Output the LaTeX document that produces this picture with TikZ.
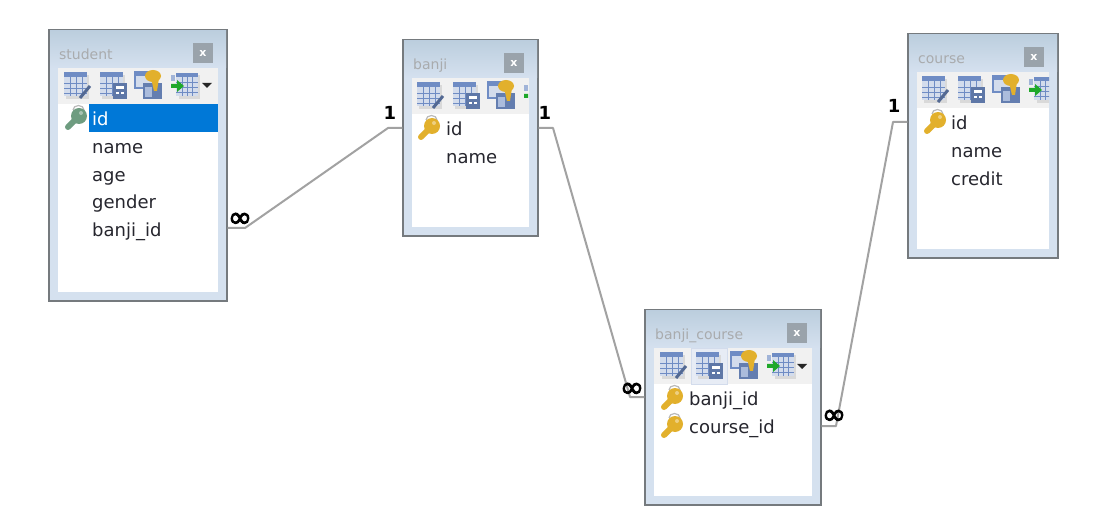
\documentclass[tikz,border=0pt]{standalone}
\usepackage{fontspec}
\setmainfont{DejaVu Sans}
\newfontfamily\symfont[FakeBold=3]{DejaVu Sans}
\definecolor{framegray}{HTML}{757A7E}
\definecolor{bodyblue}{HTML}{D5E1EF}
\definecolor{headtop}{HTML}{BCCEDE}
\definecolor{toolbg}{HTML}{F1F1F1}
\definecolor{selblue}{HTML}{0078D7}
\definecolor{linkgray}{HTML}{A2A2A2}
\definecolor{titlegray}{HTML}{A9ABAD}
\definecolor{closegray}{HTML}{9AA3AB}
\definecolor{rowink}{HTML}{26262E}
\definecolor{gridblue}{HTML}{6F8CC4}
\definecolor{gridlight}{HTML}{D3DCEC}
\definecolor{keygold}{HTML}{E2B02C}
\definecolor{keygreen}{HTML}{6E9C80}
\definecolor{arrowgreen}{HTML}{1FA82A}
\tikzset{
  x=1pt,y=-1pt,
  frame box/.style={draw=framegray,line width=1.4pt,fill=bodyblue,rectangle,inner sep=0pt},
  title text/.style={anchor=base west,inner sep=0pt,text=titlegray,font=\fontsize{14}{16}\selectfont},
  row text/.style={anchor=base west,inner sep=0pt,text=rowink,font=\fontsize{18}{20}\selectfont},
  close btn/.style={fill=closegray,minimum width=20pt,minimum height=20pt,inner sep=0pt,text=white,font=\bfseries\fontsize{11}{11}\selectfont},
  link/.style={draw=linkgray,line width=2pt,line join=round},
  one mark/.style={inner sep=0pt,text=black,font=\bfseries\fontsize{18}{18}\selectfont},
  many mark/.style={inner sep=0pt,text=black,font=\symfont\fontsize{29}{29}\selectfont},
}
% table window: name, x0, y0, x1, y1, title
\newcommand{\tablewin}[6]{%
  \node[frame box,minimum width={(#4-#2)*1pt},minimum height={(#5-#3)*1pt}] (#1) at ({(#2+#4)/2},{(#3+#5)/2}) {};
  \shade[top color=headtop,bottom color=bodyblue] ({#2+1},{#3+1}) rectangle ({#4-1},{#3+38});
  \fill[white] ({#2+9},{#3+38}) rectangle ({#4-9},{#5-9});
  \fill[toolbg] ({#2+9},{#3+38}) rectangle ({#4-9},{#3+74});
  \node[title text] (#1-title) at ({#2+10},{#3+29.5}) {#6};
  \node[close btn] (#1-close) at ({#4-24},{#3+23}) {x};
}
\newcommand{\gridicon}[2]{% table glyph at x,y, 22x22
  \fill[gray!30] ({#1+2},{#2+3}) rectangle ({#1+25},{#2+27});
  \fill[gridlight] (#1,#2) rectangle ({#1+23},{#2+24});
  \fill[gridblue] (#1,#2) rectangle ({#1+23},{#2+5});
  \foreach \gi in {6,11,16}{\draw[gridblue,line width=.9pt] (#1,{#2+5+\gi}) -- ({#1+23},{#2+5+\gi});}
  \foreach \gi in {6,12,18}{\draw[gridblue,line width=.9pt] ({#1+\gi},{#2+5}) -- ({#1+\gi},{#2+24});}
}
\newcommand{\iconedit}[2]{\gridicon{#1}{#2}
  \draw[gridblue!75!black,line width=3pt] ({#1+16},{#2+26}) -- ({#1+26},{#2+14});}
\newcommand{\iconcalc}[2]{\gridicon{#1}{#2}
  \fill[gridblue!85!black] ({#1+13},{#2+11}) rectangle ({#1+27},{#2+27});
  \fill[white] ({#1+16},{#2+14}) rectangle ({#1+24},{#2+17});
  \fill[white] ({#1+16},{#2+20}) rectangle ({#1+19},{#2+22});
  \fill[white] ({#1+21},{#2+20}) rectangle ({#1+24},{#2+22});}
\newcommand{\iconkey}[2]{%
  \fill[gridblue] (#1,#2) rectangle ({#1+21},{#2+18});
  \fill[gridlight] ({#1+2},{#2+5}) rectangle ({#1+19},{#2+16});
  \fill[gridblue!90!black] ({#1+9},{#2+12}) rectangle ({#1+28},{#2+28});
  \fill[gridlight!60!gridblue] ({#1+11},{#2+16}) rectangle ({#1+18},{#2+26});
  \fill[keygold] ({#1+19},{#2+5}) ellipse[x radius=8,y radius=6];
  \fill[keygold] ({#1+17},{#2+7}) -- ({#1+25},{#2+7}) -- ({#1+23},{#2+20}) -- ({#1+20},{#2+20}) -- cycle;
}
\newcommand{\iconmove}[2]{%
  \fill[gray!30] ({#1+8},{#2+3}) rectangle ({#1+29},{#2+27});
  \fill[gridlight] ({#1+5},{#2+1}) rectangle ({#1+27},{#2+24});
  \fill[gridblue] ({#1+5},{#2+1}) rectangle ({#1+27},{#2+5});
  \foreach \gi in {11,16,21}{\draw[gridblue,line width=.9pt] ({#1+\gi},{#2+5}) -- ({#1+\gi},{#2+24});
    \draw[gridblue,line width=.9pt] ({#1+5},{#2+\gi-1}) -- ({#1+27},{#2+\gi-1});}
  \fill[gridlight!50!gridblue] (#1,{#2+3}) rectangle ({#1+4},{#2+9});
  \fill[arrowgreen] (#1,{#2+12}) -- ({#1+6},{#2+12}) -- ({#1+6},{#2+8}) -- ({#1+13},{#2+14}) -- ({#1+6},{#2+20}) -- ({#1+6},{#2+16}) -- (#1,{#2+16}) -- cycle;
}
% toolbar: left x of inner area, top y of toolbar
\newcommand{\toolset}[2]{%
  \iconedit{#1+6}{#2+4}
  \iconcalc{#1+42}{#2+4}
  \iconkey{#1+76}{#2+3}
  \iconmove{#1+113}{#2+4}
}
\newcommand{\dropmark}[2]{\fill[black!85] ({#1-5},{#2-2}) -- ({#1+5},{#2-2}) -- (#1,{#2+3}) -- cycle;}
\newcommand{\keyicon}[3]{% x,y (top-left), colour
  \draw[gray!55,line width=1.2pt] ({#1+8},{#2+5}) arc[start angle=180,end angle=0,x radius=5.5,y radius=-4.5];
  \draw[#3,line width=6pt,line cap=round] ({#1+3},{#2+22}) -- ({#1+12},{#2+13});
  \fill[#3] ({#1+14},{#2+11}) ellipse[x radius=8,y radius=8];
  \fill[#3!60!white] ({#1+16},{#2+8}) circle[radius=2];
}
\newcommand{\rowtext}[4]{% name,x,row centre y,text
  \coordinate (#1-c) at (#2,#3);
  \node[row text] (#1) at (#2,{#3+7.5}) {#4};
}
\begin{document}
\begin{tikzpicture}
\useasboundingbox (0,0) rectangle (1116,526);
\fill[white] (0,0) rectangle (1116,526);

% student
\tablewin{student}{49}{30}{227}{301}{student}
\begin{scope}\clip (58,68) rectangle (218,104); \toolset{58}{68} \end{scope}
\dropmark{207}{85}
\fill[selblue] (89,104) rectangle (218,132);
\keyicon{65}{105}{keygreen}
\rowtext{s-id}{92}{118}{\textcolor{white}{id}}
\rowtext{s-name}{92}{146}{name}
\rowtext{s-age}{92}{174}{age}
\rowtext{s-gender}{92}{201}{gender}
\rowtext{s-banji}{92}{229}{banji\_id}

% banji
\tablewin{banji}{403}{40}{538}{236}{banji}
\begin{scope}\clip (412,78) rectangle (528,114); \toolset{411}{78} \end{scope}
\keyicon{418}{115}{keygold}
\rowtext{b-id}{446}{128}{id}
\rowtext{b-name}{446}{156}{name}

% banji_course
\tablewin{bc}{645}{310}{821}{505}{banji\_course}
\fill[gridlight!55!white] (691,348) rectangle (727,384);
\draw[gridlight,line width=.7pt] (691,348) rectangle (727,384);
\begin{scope}\clip (655,348) rectangle (811,384); \toolset{654}{348} \end{scope}
\dropmark{802}{366}
\keyicon{661}{385}{keygold}
\keyicon{661}{413}{keygold}
\rowtext{bc-bid}{689}{398}{banji\_id}
\rowtext{bc-cid}{689}{426}{course\_id}

% course
\tablewin{course}{908}{34}{1058}{258}{course}
\begin{scope}\clip (917,72) rectangle (1049,108); \toolset{916}{72} \end{scope}
\keyicon{924}{109}{keygold}
\rowtext{c-id}{951}{122}{id}
\rowtext{c-name}{951}{150}{name}
\rowtext{c-credit}{951}{178}{credit}

% connectors
\coordinate (a1) at (245,228);
\coordinate (a2) at (388,128);
\coordinate (b1) at (553,128);
\coordinate (b2) at (630,397);
\coordinate (d1) at (836,426);
\coordinate (d2) at (893,122);
\draw[link] (student.east |- a1) -- (a1) -- (a2) -- (banji.west |- a2);
\draw[link] (banji.east |- b1) -- (b1) -- (b2) -- (bc.west |- b2);
\draw[link] (bc.east |- d1) -- (d1) -- (d2) -- (course.west |- d2);

% end marks
\node[many mark] (m1) at (240,220) {∞};
\node[one mark] (o1) at (390,113) {1};
\node[one mark] (o2) at (545,113) {1};
\node[many mark] (m2) at (632,390) {∞};
\node[many mark] (m3) at (834,417) {∞};
\node[one mark] (o3) at (894,106) {1};
\end{tikzpicture}
\end{document}
